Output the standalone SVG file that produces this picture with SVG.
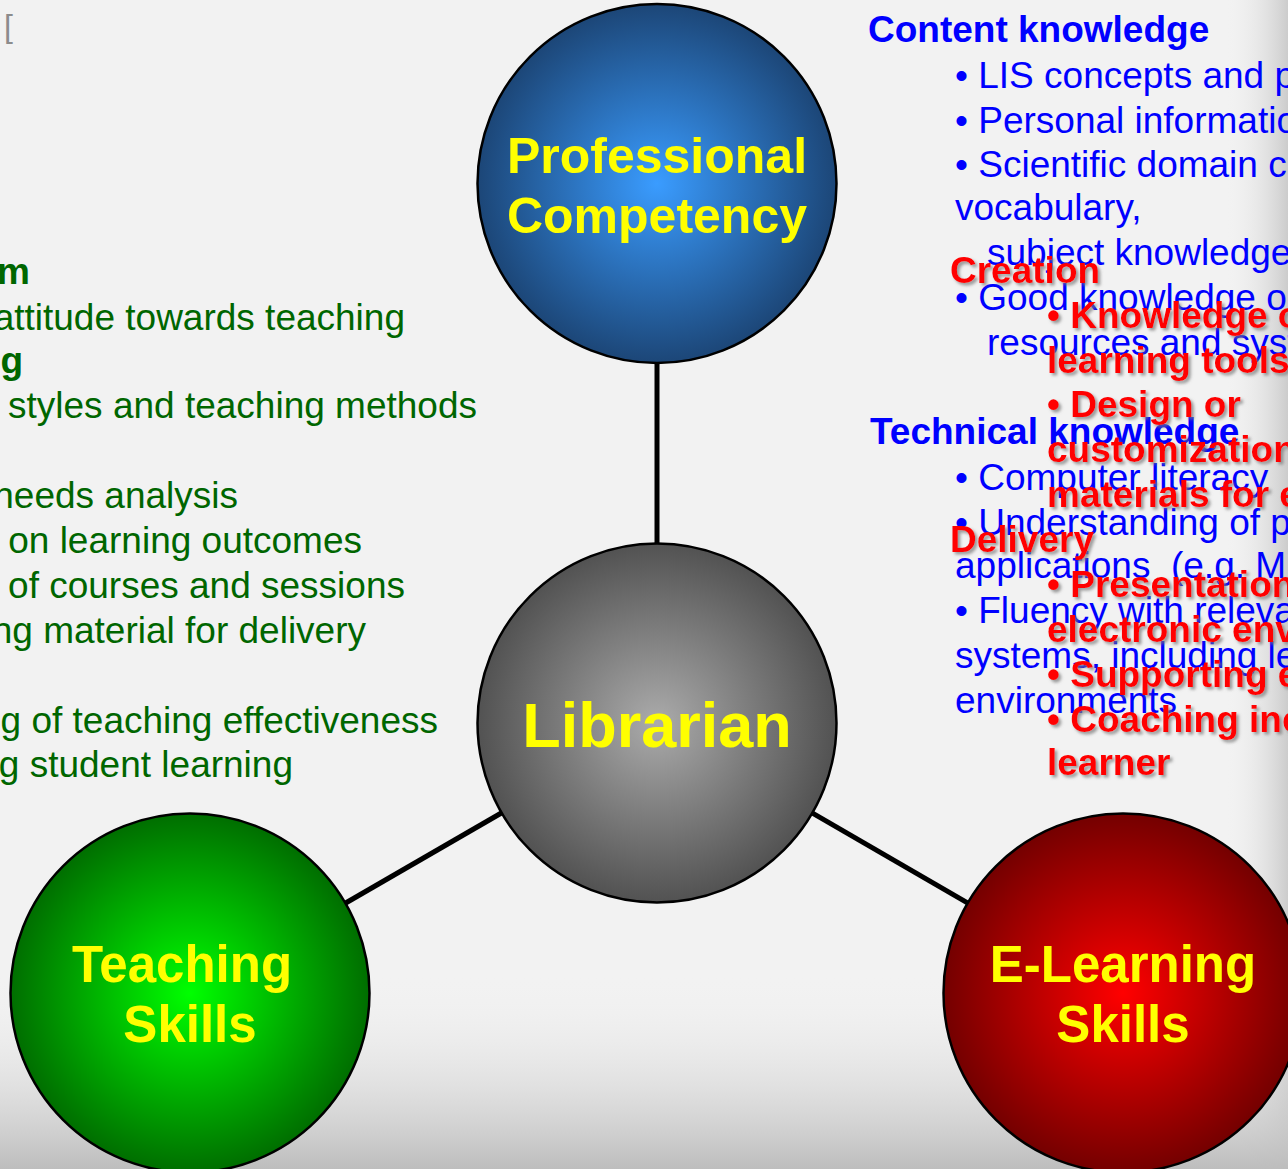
<svg xmlns="http://www.w3.org/2000/svg" width="1288" height="1169" viewBox="0 0 1288 1169">
<defs>
<linearGradient id="bgRight" x1="1225" y1="0" x2="1288" y2="0" gradientUnits="userSpaceOnUse">
<stop offset="0" stop-color="#f2f2f2" stop-opacity="0"/>
<stop offset="1" stop-color="#cccccc"/>
</linearGradient>
<linearGradient id="bgBottom" x1="0" y1="975" x2="0" y2="1169" gradientUnits="userSpaceOnUse">
<stop offset="0" stop-color="#f2f2f2" stop-opacity="0"/>
<stop offset="1" stop-color="#bdbdbd"/>
</linearGradient>
<radialGradient id="gBlue"><stop offset="0" stop-color="#3a9cff"/><stop offset="1" stop-color="#1c4677"/></radialGradient>
<radialGradient id="gGray"><stop offset="0" stop-color="#ababab"/><stop offset="1" stop-color="#525252"/></radialGradient>
<radialGradient id="gGreen"><stop offset="0" stop-color="#00ff00"/><stop offset="1" stop-color="#006e00"/></radialGradient>
<radialGradient id="gRed"><stop offset="0" stop-color="#ff0000"/><stop offset="1" stop-color="#740000"/></radialGradient>
<filter id="shadow" x="-10%" y="-30%" width="120%" height="160%">
<feDropShadow dx="2.5" dy="2.5" stdDeviation="1.5" flood-color="#7a7a7a" flood-opacity="0.75"/>
</filter>
</defs>
<style>
text{font-family:"Liberation Sans",Arial,sans-serif;}
.node{stroke:#000;stroke-width:2.5;}
.lbl{fill:#ffff00;font-weight:bold;text-anchor:middle;}
.green{fill:#006600;font-size:37px;text-anchor:end;}
.gb{font-weight:bold;}
.blue{fill:#0000ff;font-size:37px;}
.bb{font-weight:bold;}
.red{fill:#ff0000;font-size:37px;font-weight:bold;filter:url(#shadow);}
.conn{stroke:#000;stroke-width:5;}
</style>
<rect x="0" y="0" width="1288" height="1169" fill="#f2f2f2"/>
<rect x="1225" y="0" width="63" height="1169" fill="url(#bgRight)"/>
<rect x="0" y="975" width="1288" height="194" fill="url(#bgBottom)"/>
<text x="4" y="37" font-size="32" fill="#8c8c8c">[</text>

<g id="teaching-text">
<text class="green gb" x="30" y="284">m</text>
<text class="green" x="405" y="330">attitude towards teaching</text>
<text class="green gb" x="23" y="373">g</text>
<text class="green" x="477" y="418">styles and teaching methods</text>
<text class="green" x="238" y="508">needs analysis</text>
<text class="green" x="362" y="553">on learning outcomes</text>
<text class="green" x="405" y="598">of courses and sessions</text>
<text class="green" x="366" y="643">ng material for delivery</text>
<text class="green" x="438" y="733">g of teaching effectiveness</text>
<text class="green" x="293" y="777">g student learning</text>
</g>

<g id="competency-text">
<text class="blue bb" x="868" y="42">Content knowledge</text>
<text class="blue" x="955" y="88">• LIS concepts and p</text>
<text class="blue" x="955" y="133">• Personal informatio</text>
<text class="blue" x="955" y="177">• Scientific domain c</text>
<text class="blue" x="955" y="220">vocabulary,</text>
<text class="blue" x="987" y="265">subject knowledge</text>
<text class="blue" x="955" y="310">• Good knowledge o</text>
<text class="blue" x="987" y="355">resources and syst</text>
<text class="blue bb" x="870" y="444">Technical knowledge</text>
<text class="blue" x="955" y="490">• Computer literacy</text>
<text class="blue" x="955" y="535">• Understanding of p</text>
<text class="blue" x="955" y="578" xml:space="preserve">applications  (e.g. M</text>
<text class="blue" x="955" y="623">• Fluency with releva</text>
<text class="blue" x="955" y="668">systems, including le</text>
<text class="blue" x="955" y="713">environments</text>
</g>

<g id="elearning-text">
<text class="red" x="950" y="283">Creation</text>
<text class="red" x="1047" y="328">• Knowledge o</text>
<text class="red" x="1047" y="373">learning tools</text>
<text class="red" x="1047" y="417">• Design or</text>
<text class="red" x="1047" y="462">customization</text>
<text class="red" x="1047" y="507">materials for e</text>
<text class="red" x="950" y="552">Delivery</text>
<text class="red" x="1047" y="597">• Presentation</text>
<text class="red" x="1047" y="642">electronic env</text>
<text class="red" x="1047" y="687">• Supporting e</text>
<text class="red" x="1047" y="732">• Coaching inc</text>
<text class="red" x="1047" y="775">learner</text>
</g>

<g id="connectors">
<line class="conn" x1="657" y1="183" x2="657" y2="723"/>
<line class="conn" x1="657" y1="723" x2="190" y2="993"/>
<line class="conn" x1="657" y1="723" x2="1123" y2="993"/>
</g>

<g id="professional-competency">
<circle class="node" cx="657" cy="183.5" r="179.5" fill="url(#gBlue)"/>
<text class="lbl" x="657" y="173" font-size="50">Professional</text>
<text class="lbl" x="657" y="233" font-size="50">Competency</text>
</g>
<g id="librarian">
<circle class="node" cx="657" cy="723" r="179.5" fill="url(#gGray)"/>
<text class="lbl" x="657" y="747" font-size="63">Librarian</text>
</g>
<g id="teaching-skills">
<circle class="node" cx="190" cy="993" r="179.5" fill="url(#gGreen)"/>
<text class="lbl" x="182" y="982" font-size="51">Teaching</text>
<text class="lbl" x="190" y="1042" font-size="51">Skills</text>
</g>
<g id="elearning-skills">
<circle class="node" cx="1123" cy="993" r="179.5" fill="url(#gRed)"/>
<text class="lbl" x="1123" y="982" font-size="51">E-Learning</text>
<text class="lbl" x="1123" y="1042" font-size="51">Skills</text>
</g>
</svg>
